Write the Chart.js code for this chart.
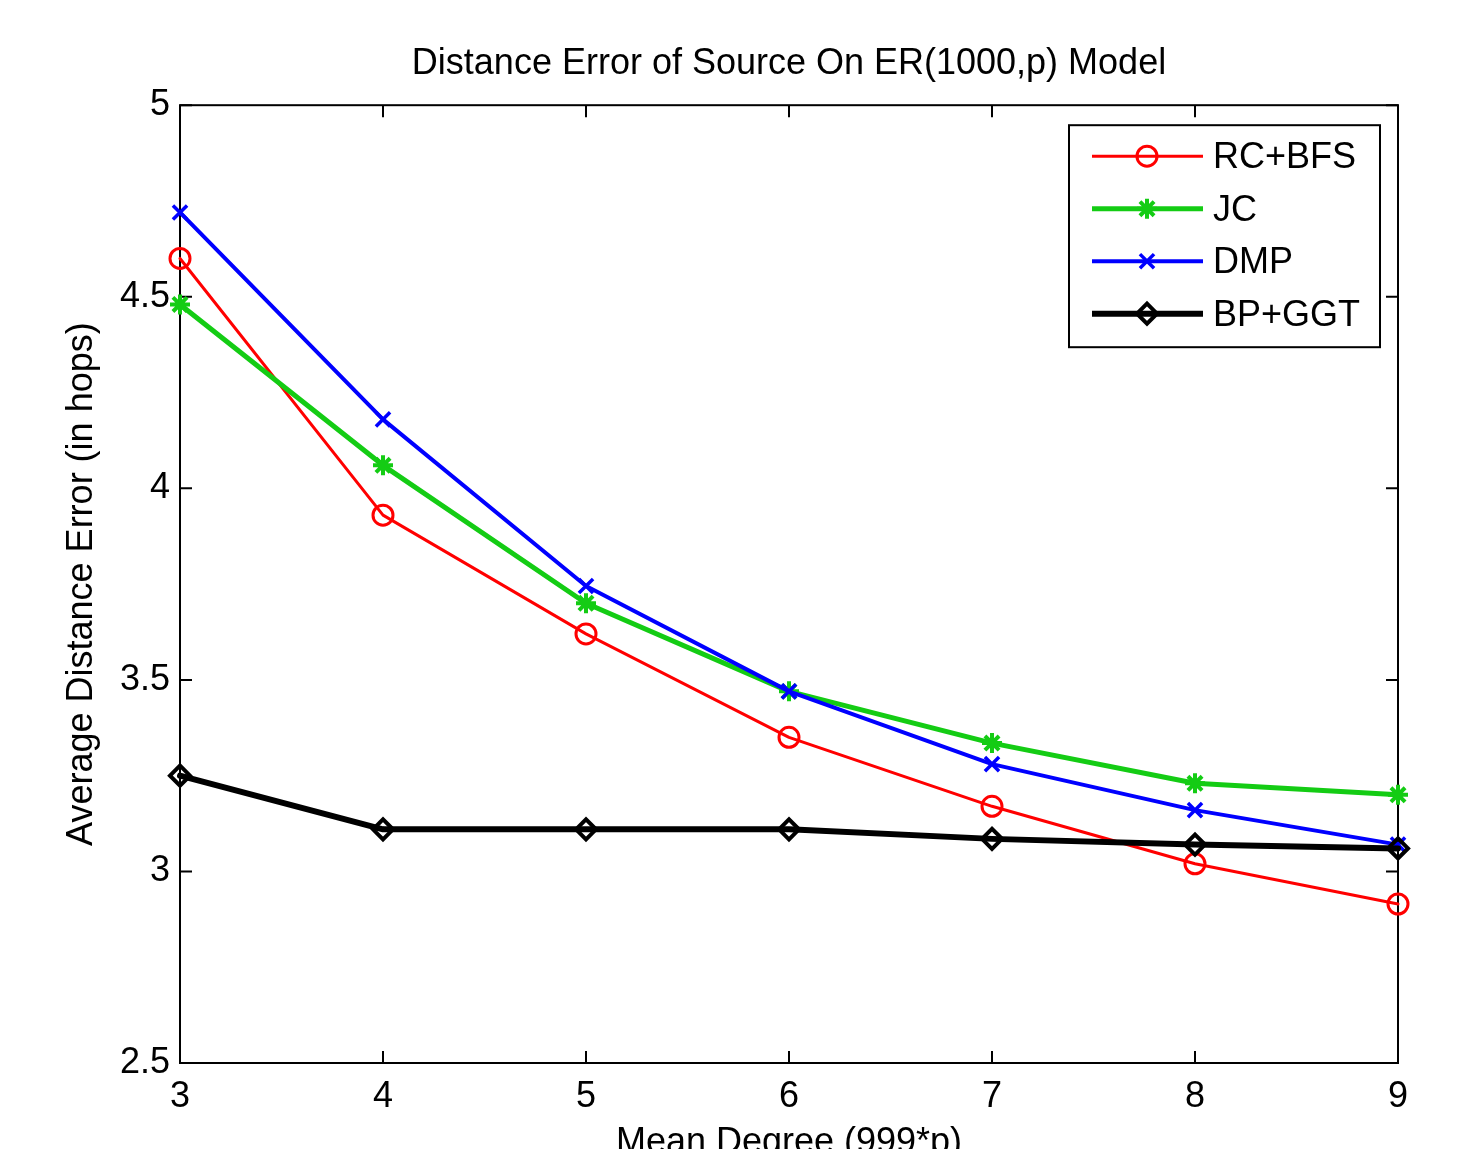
<!DOCTYPE html>
<html>
<head>
<meta charset="utf-8">
<script src="https://cdn.jsdelivr.net/npm/chart.js@4.4.0/dist/chart.umd.min.js"></script>
<style>
  html, body { margin: 0; padding: 0; background: #fff; }
</style>
</head>
<body>
<canvas id="chart" width="1464" height="1149"></canvas>
<script>
// ================= DATA =================
const meanDegree = [3, 4, 5, 6, 7, 8, 9];
const rcBfs = [4.60, 3.93, 3.62, 3.35, 3.17, 3.02, 2.915];
const jc    = [4.48, 4.06, 3.70, 3.47, 3.335, 3.23, 3.20];
const dmp   = [4.72, 4.18, 3.745, 3.47, 3.28, 3.16, 3.07];
const bpGgt = [3.25, 3.11, 3.11, 3.11, 3.085, 3.07, 3.06];

const seriesNames = ["RC+BFS", "JC", "DMP", "BP+GGT"];
const yTicks = [2.5, 3, 3.5, 4, 4.5, 5];

const FONT = "'Liberation Sans', Arial, sans-serif";

function points(vals) {
  return vals.map((v, i) => ({ x: meanDegree[i], y: v }));
}

// ================= FRAME (box + inward ticks) =================
const framePlugin = {
  id: "frame",
  beforeDatasetsDraw(chart) {
    const { ctx, chartArea: a, scales } = chart;
    const tl = 12;
    ctx.save();
    ctx.strokeStyle = "#000";
    ctx.lineWidth = 2;
    ctx.strokeRect(a.left, a.top, a.right - a.left, a.bottom - a.top);
    ctx.beginPath();
    scales.x.ticks.forEach(t => {
      const px = scales.x.getPixelForValue(t.value);
      ctx.moveTo(px, a.bottom); ctx.lineTo(px, a.bottom - tl);
      ctx.moveTo(px, a.top); ctx.lineTo(px, a.top + tl);
    });
    scales.y.ticks.forEach(t => {
      const py = scales.y.getPixelForValue(t.value);
      ctx.moveTo(a.left, py); ctx.lineTo(a.left + tl, py);
      ctx.moveTo(a.right, py); ctx.lineTo(a.right - tl, py);
    });
    ctx.stroke();
    ctx.restore();
  },
  afterDraw(chart) {
    // legend box, upper right inside the axes
    const { ctx, chartArea: a } = chart;
    const boxW = 311, boxH = 222;
    const bx = a.right - 18 - boxW;
    const by = a.top + 20;
    ctx.save();
    ctx.fillStyle = "#fff";
    ctx.fillRect(bx, by, boxW, boxH);
    ctx.strokeStyle = "#000";
    ctx.lineWidth = 2;
    ctx.strokeRect(bx, by, boxW, boxH);
    ctx.font = "36px " + FONT;
    ctx.textBaseline = "middle";
    ctx.textAlign = "left";
    chart.data.datasets.forEach((ds, i) => {
      const y = by + 31 + i * 52.5;
      ctx.strokeStyle = ds.borderColor;
      ctx.lineWidth = ds.borderWidth;
      ctx.beginPath();
      ctx.moveTo(bx + 23, y);
      ctx.lineTo(bx + 134, y);
      ctx.stroke();
      ctx.lineWidth = ds.pointBorderWidth;
      ctx.fillStyle = ds.pointBackgroundColor;
      Chart.helpers.drawPoint(ctx, {
        pointStyle: ds.pointStyle,
        radius: ds.pointRadius,
        rotation: 0,
        borderWidth: ds.pointBorderWidth
      }, bx + 78, y);
      ctx.fillStyle = "#000";
      ctx.fillText(ds.label, bx + 144, y + 2);
    });
    ctx.restore();
  }
};

// ================= CHART =================
const common = { tension: 0, fill: false, clip: false, borderJoinStyle: "round", borderCapStyle: "round" };

new Chart(document.getElementById("chart"), {
  type: "line",
  data: {
    datasets: [
      Object.assign({
        label: seriesNames[0], data: points(rcBfs),
        borderColor: "#ff0000", borderWidth: 3,
        pointStyle: "circle", pointRadius: 10, pointBorderWidth: 3,
        pointBorderColor: "#ff0000", pointBackgroundColor: "rgba(0,0,0,0)", order: 3
      }, common),
      Object.assign({
        label: seriesNames[1], data: points(jc),
        borderColor: "#14cc14", borderWidth: 5,
        pointStyle: "star", pointRadius: 10, pointBorderWidth: 4,
        pointBorderColor: "#14cc14", pointBackgroundColor: "#14cc14", order: 2
      }, common),
      Object.assign({
        label: seriesNames[2], data: points(dmp),
        borderColor: "#0000ff", borderWidth: 4,
        pointStyle: "crossRot", pointRadius: 10, pointBorderWidth: 3.5,
        pointBorderColor: "#0000ff", pointBackgroundColor: "#0000ff", order: 1
      }, common),
      Object.assign({
        label: seriesNames[3], data: points(bpGgt),
        borderColor: "#000000", borderWidth: 6,
        pointStyle: "rectRot", pointRadius: 10, pointBorderWidth: 4,
        pointBorderColor: "#000000", pointBackgroundColor: "rgba(0,0,0,0)", order: 0
      }, common)
    ]
  },
  options: {
    responsive: false,
    animation: false,
    layout: { padding: { left: 0, right: 66, top: 0, bottom: 0 } },
    plugins: {
      legend: { display: false },
      tooltip: { enabled: false },
      title: {
        display: true,
        fullSize: false,
        text: "Distance Error of Source On ER(1000,p) Model",
        color: "#000",
        font: { family: FONT, size: 36, weight: "normal" },
        padding: { top: 42, bottom: 20 }
      }
    },
    scales: {
      x: {
        type: "linear",
        min: 3, max: 9,
        grid: { display: false, drawTicks: false },
        border: { display: false },
        ticks: {
          stepSize: 1, color: "#000", padding: 12,
          font: { family: FONT, size: 36 },
          maxRotation: 0, autoSkip: false
        },
        title: {
          display: true, text: "Mean Degree (999*p)", color: "#000",
          font: { family: FONT, size: 36 },
          padding: { top: 0, bottom: -16 }
        },
        afterFit(s) { s.height = 86; }
      },
      y: {
        min: 2.5, max: 5,
        afterBuildTicks(s) { s.ticks = yTicks.map(v => ({ value: v })); },
        grid: { display: false, drawTicks: false },
        border: { display: false },
        ticks: {
          color: "#000", padding: 10,
          font: { family: FONT, size: 36 },
          callback: v => String(v)
        },
        title: {
          display: true, text: "Average Distance Error (in hops)", color: "#000",
          font: { family: FONT, size: 36 },
          padding: { top: 60, bottom: 0 }
        },
        afterFit(s) { s.width = 180; }
      }
    }
  },
  plugins: [framePlugin]
});
</script>
</body>
</html>
